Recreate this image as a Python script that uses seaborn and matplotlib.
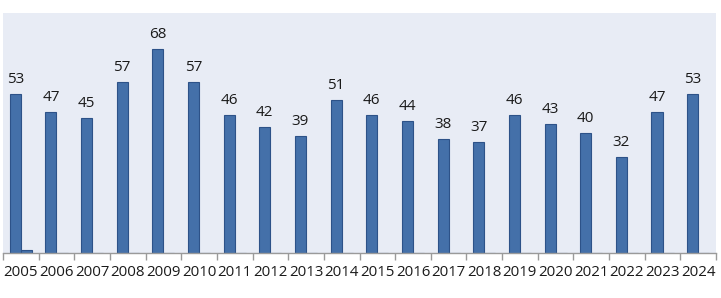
import matplotlib
matplotlib.use("Agg")
import matplotlib.pyplot as plt
import seaborn as sns
import pandas as pd
import numpy as np

years = [str(y) for y in range(2005, 2025)]
series_a = [53, 47, 45, 57, 68, 57, 46, 42, 39, 51, 46, 44, 38, 37, 46, 43, 40, 32, 47, 53]
series_b = [1, 0, 0, 0, 0, 0, 0, 0, 0, 0, 0, 0, 0, 0, 0, 0, 0, 0, 0, 0]

df = pd.DataFrame({
    "year": years * 2,
    "value": series_a + series_b,
    "series": ["A"] * len(years) + ["B"] * len(years),
})

sns.set_theme(style="white")
plt.rcParams["font.family"] = ["Open Sans", "DejaVu Sans"]

fig = plt.figure(figsize=(7.21, 2.98), dpi=100)
ax = fig.add_axes([3 / 721, 45 / 298, 713 / 721, 240 / 298])
ax.set_facecolor("#e8ecf5")

sns.barplot(data=df, x="year", y="value", hue="series", hue_order=["A", "B"],
            palette=["#4470a9", "#4470a9"], width=0.62, ax=ax,
            edgecolor="#2d5288", linewidth=0.8, legend=False, saturation=1)

# labels for series A
for p in ax.containers[0]:
    h = p.get_height()
    ax.annotate(f"{int(h)}", (p.get_x() + p.get_width() / 2, h),
                xytext=(0, 5), textcoords="offset points",
                ha="center", va="bottom", fontsize=11, color="#1a1a1a")

ax.set_ylim(0, 80)
ax.set_xlim(-0.5, len(years) - 0.5)
ax.set_xlabel("")
ax.set_ylabel("")
ax.set_yticks([])
for s in ["top", "right", "left"]:
    ax.spines[s].set_visible(False)
ax.spines["bottom"].set_color("#9a9a9a")
ax.spines["bottom"].set_linewidth(1.0)

ax.tick_params(axis="x", which="major", length=0, pad=9, labelsize=10.8, labelcolor="#1a1a1a")
ax.set_xticks(np.arange(-0.5, len(years), 1.0), minor=True)
ax.tick_params(axis="x", which="minor", length=5, width=1, color="#9a9a9a", bottom=True)

fig.savefig("out.png", dpi=100, facecolor="white")
